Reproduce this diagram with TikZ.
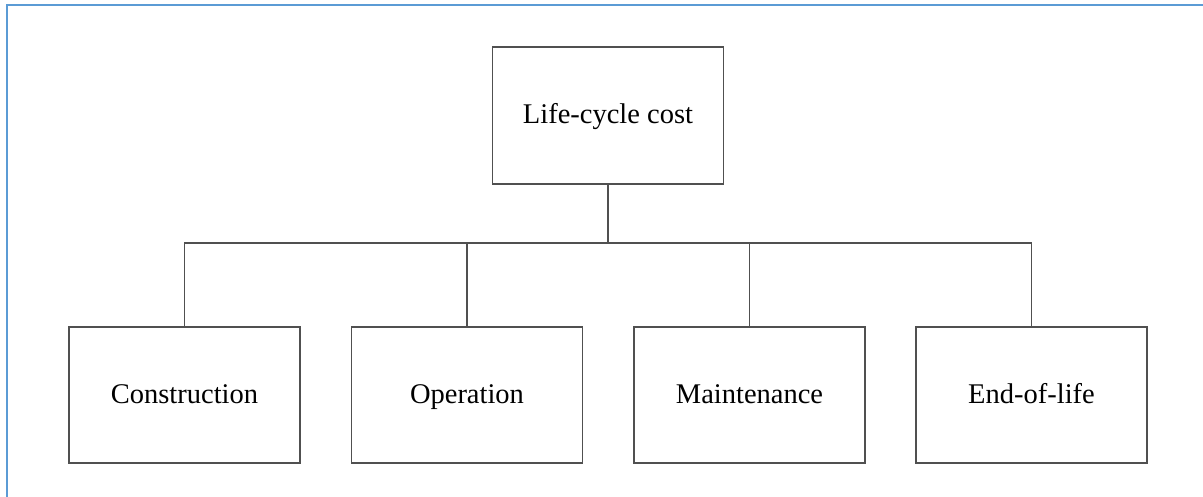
\documentclass[tikz,border=0pt]{standalone}
\usepackage{fontspec}
\setmainfont{Liberation Serif}
\definecolor{frameblue}{HTML}{5B9BD5}
\definecolor{linegray}{HTML}{505050}
\begin{document}
\begin{tikzpicture}[x=1pt,y=-1pt,
  costbox/.style={draw=linegray,line width=1.3pt,fill=white,minimum width=231pt,inner sep=0pt,text height=20pt,text depth=4pt,font=\fontsize{28.5}{34}\selectfont},
  link/.style={draw=linegray,line width=1.3pt}]
\useasboundingbox (0,0) rectangle (1203,497);
\draw[frameblue,line width=2.6pt] (7,497) -- (7,5) -- (1203,5);
\node[costbox,minimum height=137pt] (lcc) at (608,115.5) {Life-cycle cost};
\node[costbox,minimum height=136pt] (con) at (184.5,395) {Construction};
\node[costbox,minimum height=136pt] (ope) at (467,395) {Operation};
\node[costbox,minimum height=136pt] (mai) at (749.5,395) {Maintenance};
\node[costbox,minimum height=136pt] (eol) at (1031.5,395) {End-of-life};
\coordinate (bus) at (608,243);
\draw[link] (lcc.south) -- (bus);
\draw[link] (con.north) |- (bus -| eol.north) -- (eol.north);
\draw[link] (ope.north) -- (ope.north |- bus);
\draw[link] (mai.north) -- (mai.north |- bus);
\end{tikzpicture}
\end{document}
